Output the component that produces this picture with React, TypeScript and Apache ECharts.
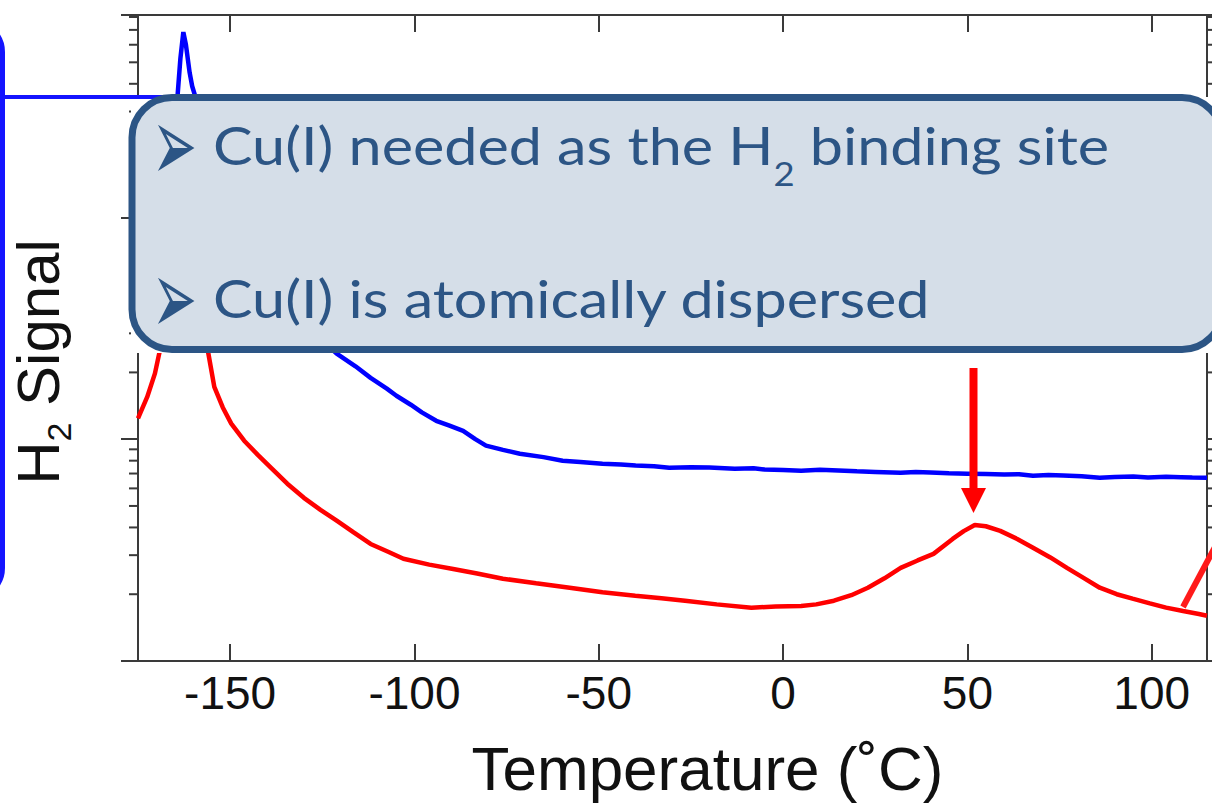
import React, { useEffect, useRef } from "react";
import * as echarts from "echarts";

// ---- axis ranges / ticks ----
const xMin = -175;
const xMax = 115;
const yMin = 1;
const yMax = 817;
const yMinorTicks = [2, 3, 4, 5, 6, 7, 8, 9, 20, 30, 40, 50, 60, 70, 80, 90, 200, 300, 400, 500, 600, 700, 800];

// ---- texts ----
const xTitle = "Temperature (˚C)";
const yTitleParts = ["H", "2", " Signal"];
const bullet = "➢";
const line1Parts = ["Cu(I) needed as the H", "2", " binding site"];
const line2 = "Cu(I) is atomically dispersed";

// ---- blue trace (temperature °C, H2 signal) ----
const blueTemp = [
  -175, -170, -167, -165, -164.3, -163.5, -162.7, -162, -161, -160.3, -159.4, -158, -156, -153, -150,
  -145, -140, -135, -130, -125, -121.1, -116, -111.9, -107.5, -104.9, -101, -98, -94.1, -90.5, -86.8,
  -83.5, -80.6, -76, -71.4, -65, -59.8, -55, -49, -44, -40, -35, -30.9, -25, -20, -13.1, -8, -5,
  0, 4.9, 10, 15, 20, 25, 31.9, 36, 40, 45, 50, 55, 60, 64, 67.8, 72, 76, 81, 85.9, 90, 95, 99,
  103.9, 108, 111, 115,
];
const blueSignal = [
  80, 100, 150, 250, 348, 520, 684, 600, 450, 390, 348, 270, 190, 130, 95,
  68, 52, 41, 33, 27.8, 24.3, 21.3, 18.9, 16.9, 15.7, 14.3, 13.2, 12.1, 11.5, 10.9,
  10.0, 9.35, 8.95, 8.6, 8.3, 8.0, 7.9, 7.75, 7.68, 7.6, 7.55, 7.43, 7.47, 7.45, 7.36, 7.4, 7.3,
  7.26, 7.21, 7.28, 7.23, 7.16, 7.12, 7.06, 7.12, 7.08, 7.02, 6.99, 6.96, 6.93, 6.95, 6.84, 6.9, 6.86,
  6.8, 6.7, 6.76, 6.78, 6.72, 6.77, 6.74, 6.71, 6.7,
];

// ---- red trace (temperature °C, H2 signal) ----
const redTemp = [
  -175, -172.5, -170.4, -168.5, -166.5, -164.5, -163, -161.5, -159.5, -157.5, -156.2, -154.3, -152,
  -149.7, -146.2, -142.5, -138.9, -134.5, -130, -125.5, -121.1, -116.5, -111.9, -107, -103, -96,
  -89.5, -83, -76, -67, -57.9, -49, -40.1, -33, -26.6, -18, -8.6, -2, 4.9, 9, 13.8, 18.5, 23,
  27.5, 31.9, 36.5, 40.8, 46, 49, 52, 55, 58.9, 63.5, 67.8, 72.5, 77, 81.5, 85.9, 90.5, 94.8,
  99.5, 103.9, 108.5, 112.8, 115,
];
const redSignal = [
  12.4, 15.5, 19.8, 27.8, 45, 90, 130, 100, 55, 34, 25.9, 17.2, 13.9,
  11.75, 9.84, 8.5, 7.43, 6.3, 5.44, 4.8, 4.29, 3.8, 3.37, 3.1, 2.89, 2.72,
  2.6, 2.48, 2.35, 2.24, 2.14, 2.04, 1.97, 1.92, 1.87, 1.8, 1.74, 1.76, 1.77, 1.8, 1.87, 1.98, 2.14,
  2.36, 2.63, 2.84, 3.04, 3.55, 3.85, 4.1, 4.05, 3.86, 3.55, 3.24, 2.93, 2.63, 2.37, 2.14, 2.0, 1.91,
  1.82, 1.74, 1.68, 1.63, 1.6,
];

const AXIS = "#3a3a3a";
const TXT = "#111111";
const SLIDE_BLUE = "#2c5585";

export default function App() {
  const ref = useRef<HTMLDivElement>(null);

  useEffect(() => {
    if (!ref.current) return;
    const chart = echarts.init(ref.current, undefined, { renderer: "svg" });

    const blueData = blueTemp.map((t, i) => [t, blueSignal[i]]);
    const redData = redTemp.map((t, i) => [t, redSignal[i]]);

    const xAxisCommon = {
      type: "value",
      min: xMin,
      max: xMax,
      splitLine: { show: false },
      axisLine: { show: true, onZero: false, lineStyle: { color: AXIS, width: 2 } },
      axisTick: { show: true, inside: true, length: 17, lineStyle: { color: AXIS, width: 2 } },
    };
    const yAxisCommon = {
      type: "log",
      logBase: 10,
      min: yMin,
      max: yMax,
      splitLine: { show: false },
      minorTick: { show: false },
      axisLabel: { show: false },
      axisLine: { show: true, onZero: false, lineStyle: { color: AXIS, width: 2 } },
      axisTick: { show: true, inside: false, length: 17, lineStyle: { color: AXIS, width: 2 } },
    };

    const option: any = {
      animation: false,
      backgroundColor: "#ffffff",
      grid: { left: 132, right: 5, top: 15, bottom: 142, containLabel: false },
      xAxis: [
        {
          ...xAxisCommon,
          position: "bottom",
          axisLabel: {
            show: true,
            fontFamily: "Liberation Sans",
            fontSize: 46,
            color: TXT,
            margin: 9,
            showMinLabel: false,
            showMaxLabel: false,
          },
          name: xTitle,
          nameLocation: "middle",
          nameGap: 76,
          nameMoveOverlap: false,
          nameTextStyle: {
            fontFamily: "Liberation Sans",
            fontSize: 62,
            color: TXT,
            padding: [0, 0, 0, 70],
          },
        },
        { ...xAxisCommon, position: "top", axisLabel: { show: false } },
      ],
      yAxis: [
        {
          ...yAxisCommon,
          position: "left",
          name: `{m|${yTitleParts[0]}}{s|${yTitleParts[1]}}{m|${yTitleParts[2]}}`,
          nameLocation: "middle",
          nameRotate: 90,
          nameGap: 62,
          nameMoveOverlap: false,
          nameTextStyle: {
            fontFamily: "Liberation Sans",
            fontSize: 60,
            color: TXT,
            padding: [0, 48, 0, 0],
            rich: {
              m: { fontFamily: "Liberation Sans", fontSize: 60, color: TXT, lineHeight: 66 },
              s: { fontFamily: "Liberation Sans", fontSize: 34, color: TXT, padding: [42, 0, 0, 0] },
            },
          },
        },
        { ...yAxisCommon, position: "right" },
      ],
      series: [
        {
          type: "line",
          data: blueData,
          xAxisIndex: 0,
          yAxisIndex: 0,
          showSymbol: false,
          symbol: "none",
          lineStyle: { color: "#0000ff", width: 4.5 },
          z: 3,
        },
        {
          type: "line",
          data: redData,
          xAxisIndex: 0,
          yAxisIndex: 0,
          showSymbol: false,
          symbol: "none",
          lineStyle: { color: "#ff0000", width: 4.5 },
          z: 3,
        },
        {
          type: "custom",
          xAxisIndex: 0,
          yAxisIndex: 0,
          silent: true,
          clip: false,
          encode: { x: 0, y: 1 },
          data: yMinorTicks.map((v) => [xMin, v]),
          z: 4,
          renderItem: (params: any, api: any) => {
            const v = api.value(1);
            const pl = api.coord([xMin, v]);
            const pr = api.coord([xMax, v]);
            const st = { stroke: AXIS, lineWidth: 2 };
            return {
              type: "group",
              children: [
                { type: "line", shape: { x1: pl[0] - 9, y1: pl[1], x2: pl[0], y2: pl[1] }, style: st },
                { type: "line", shape: { x1: pr[0], y1: pr[1], x2: pr[0] + 9, y2: pr[1] }, style: st },
              ],
            };
          },
        },
      ],
      graphic: [
        // left slide frame (blue rounded box, mostly cropped)
        {
          type: "rect",
          z: 100,
          shape: { x: -400, y: 22, width: 402.5, height: 576, r: 30 },
          style: { fill: "none", stroke: "#1414ff", lineWidth: 5 },
        },
        // white backing behind the callout
        {
          type: "rect",
          z: 101,
          shape: { x: 131, y: 97, width: 1090, height: 256 },
          style: { fill: "#ffffff" },
        },
        // blue connector line
        {
          type: "line",
          z: 102,
          shape: { x1: 0, y1: 97, x2: 172, y2: 97 },
          style: { stroke: "#1414ff", lineWidth: 4 },
        },
        // callout box
        {
          type: "rect",
          z: 103,
          shape: { x: 132, y: 97.5, width: 1090, height: 252, r: 40 },
          style: { fill: "#d5dee8", stroke: SLIDE_BLUE, lineWidth: 7 },
        },
        {
          type: "text",
          z: 104,
          x: 152,
          y: 144,
          scaleX: 1.12,
          scaleY: 2.2,
          style: {
            text: bullet,
            fontFamily: "DejaVu Sans",
            fontSize: 48,
            fill: SLIDE_BLUE,
            align: "left",
            verticalAlign: "middle",
          },
        },
        {
          type: "text",
          z: 104,
          x: 213,
          y: 145,
          scaleX: 1.14,
          style: {
            text: `{m|${line1Parts[0]}}{s|${line1Parts[1]}}{m|${line1Parts[2]}}`,
            align: "left",
            verticalAlign: "middle",
            rich: {
              m: { fontFamily: "Lato", fontSize: 52, fill: SLIDE_BLUE, lineHeight: 60 },
              s: { fontFamily: "Lato", fontSize: 32, fill: SLIDE_BLUE, padding: [56, 0, 0, 0] },
            },
          },
        },
        {
          type: "text",
          z: 104,
          x: 152,
          y: 297,
          scaleX: 1.12,
          scaleY: 2.2,
          style: {
            text: bullet,
            fontFamily: "DejaVu Sans",
            fontSize: 48,
            fill: SLIDE_BLUE,
            align: "left",
            verticalAlign: "middle",
          },
        },
        {
          type: "text",
          z: 104,
          x: 213,
          y: 298,
          scaleX: 1.14,
          style: {
            text: line2,
            fontFamily: "Lato",
            fontSize: 52,
            fill: SLIDE_BLUE,
            align: "left",
            verticalAlign: "middle",
          },
        },
        // red arrow pointing at the peak
        {
          type: "line",
          z: 104,
          shape: { x1: 973.5, y1: 368, x2: 973.5, y2: 492 },
          style: { stroke: "#ff0000", lineWidth: 8 },
        },
        {
          type: "polygon",
          z: 104,
          shape: { points: [[961, 488], [986, 488], [973.5, 513]] },
          style: { fill: "#ff0000" },
        },
        // red diagonal pointer at lower right
        {
          type: "line",
          z: 104,
          shape: { x1: 1183, y1: 607, x2: 1216, y2: 545 },
          style: { stroke: "#ff1a1a", lineWidth: 6 },
        },
      ],
    };

    chart.setOption(option);
    return () => chart.dispose();
  }, []);

  return (
    <div
      ref={ref}
      style={{ position: "absolute", left: 0, top: 0, width: 1212, height: 804, background: "#fff" }}
    />
  );
}
